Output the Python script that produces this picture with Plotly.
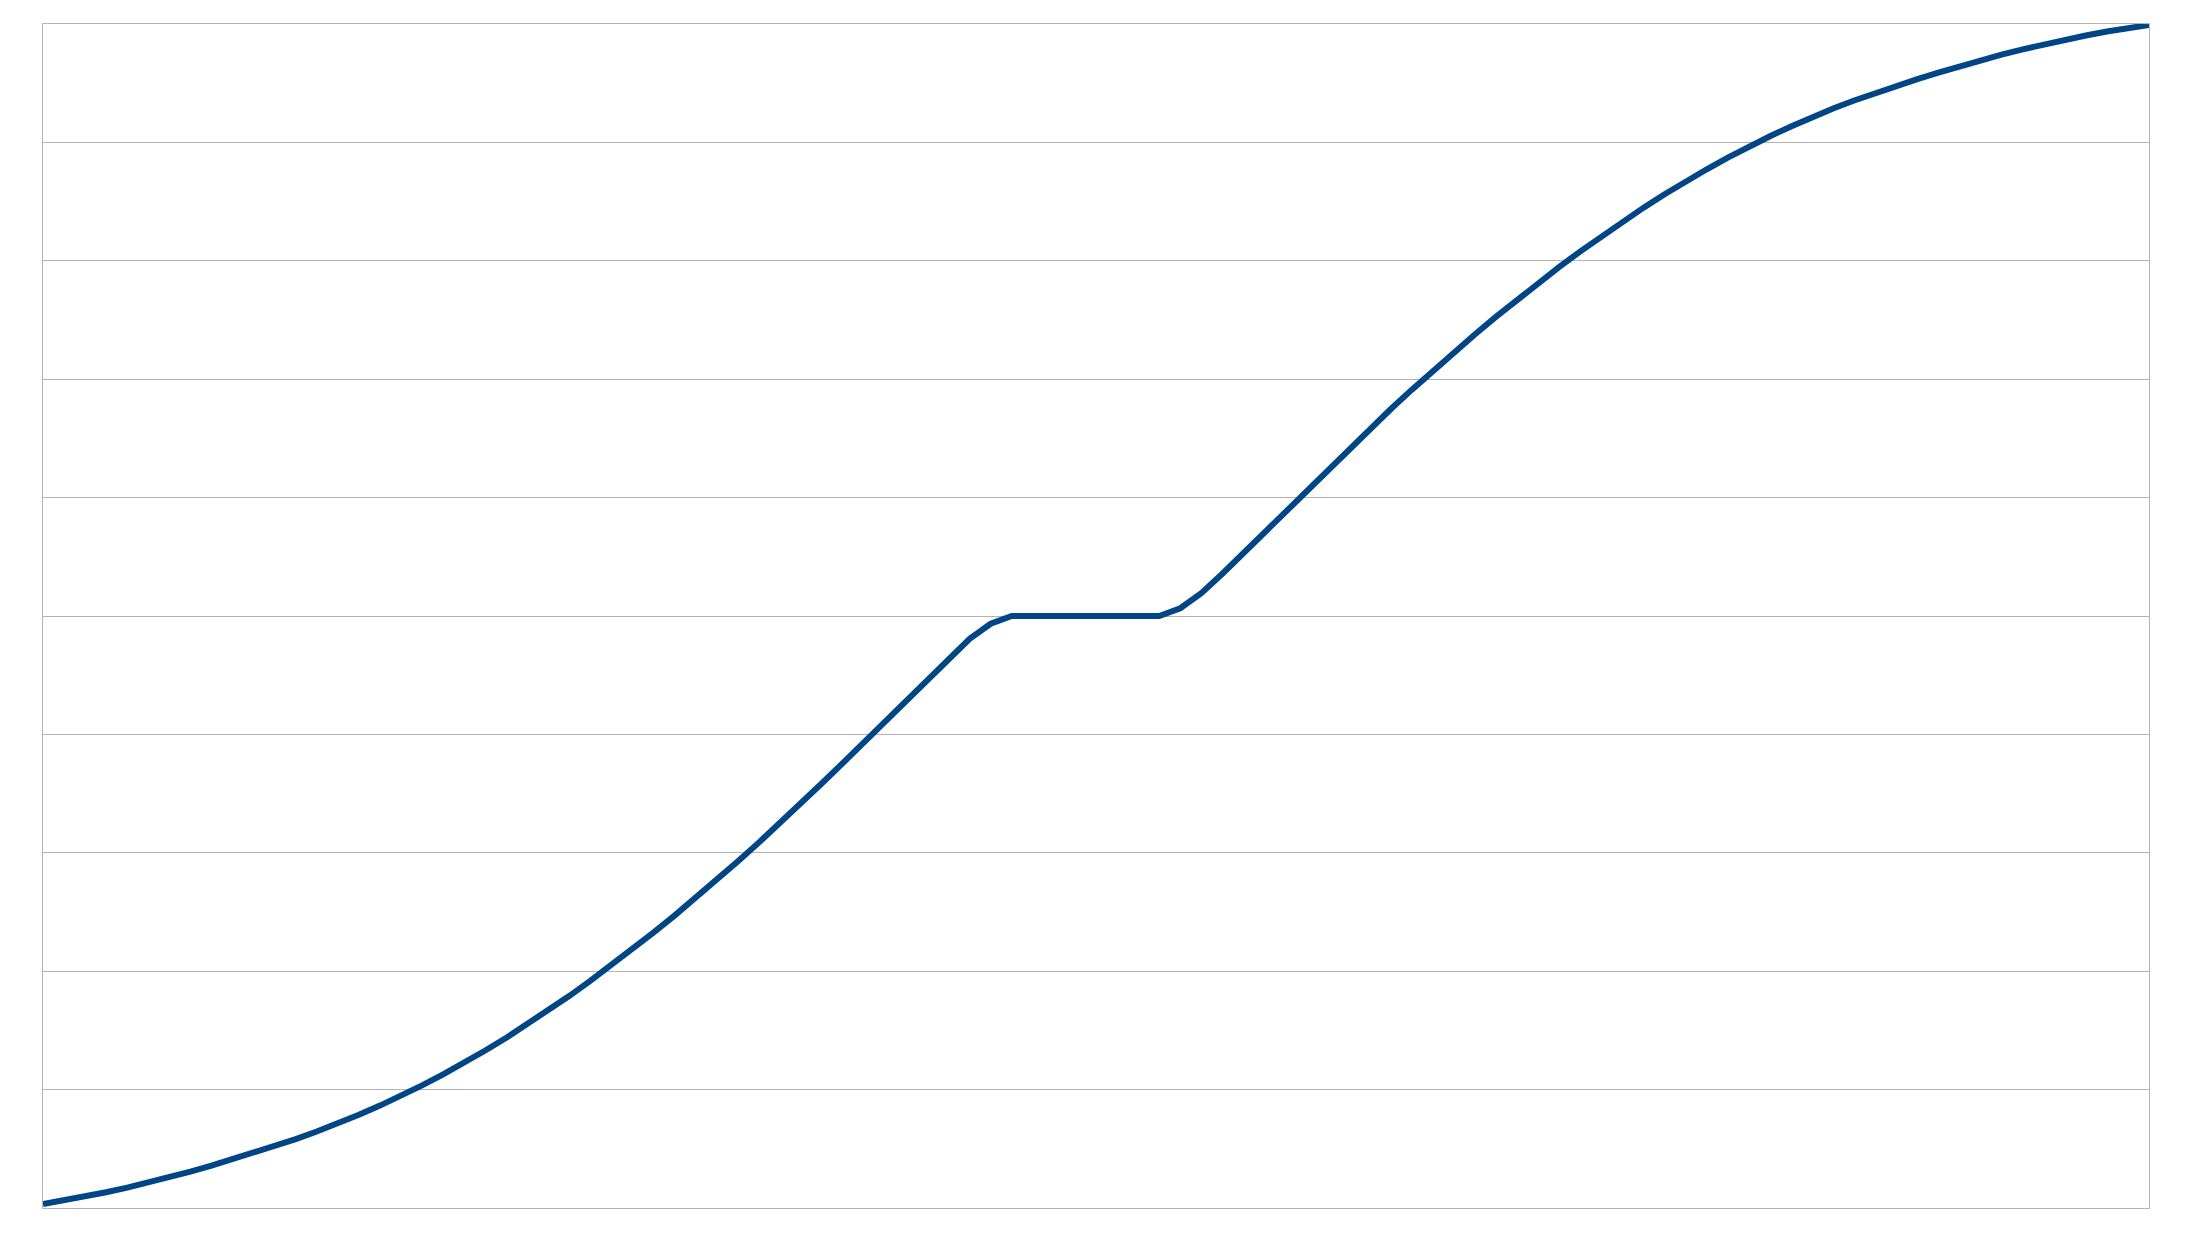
import plotly.graph_objects as go

# x positions (one point per step, 0..100)
steps = list(range(0, 101))

# values
level = [
    0.034, 0.064, 0.097, 0.133, 0.172, 0.214, 0.259, 0.307, 0.357, 0.410,
    0.465, 0.522, 0.582, 0.646, 0.714, 0.787, 0.865, 0.948, 1.036, 1.129,
    1.227, 1.330, 1.438, 1.551, 1.669, 1.792, 1.920, 2.052, 2.188, 2.328,
    2.472, 2.620, 2.772, 2.928, 3.088, 3.252, 3.419, 3.589, 3.762, 3.937,
    4.114, 4.292, 4.469, 4.643, 4.807, 4.935, 5.000, 5.000, 5.000, 5.000,
    5.000, 5.000, 5.000, 5.000, 5.065, 5.193, 5.357, 5.531, 5.708, 5.886,
    6.063, 6.238, 6.411, 6.581, 6.748, 6.912, 7.072, 7.228, 7.380, 7.528,
    7.672, 7.812, 7.948, 8.080, 8.208, 8.331, 8.449, 8.562, 8.670, 8.773,
    8.871, 8.964, 9.052, 9.135, 9.213, 9.286, 9.354, 9.418, 9.478, 9.535,
    9.590, 9.643, 9.693, 9.741, 9.786, 9.828, 9.867, 9.903, 9.936, 9.966,
    9.992,
]

fig = go.Figure()
fig.add_trace(go.Scatter(
    x=steps,
    y=level,
    mode="lines",
    line=dict(color="#004586", width=6),
    showlegend=False,
))

grid = "#b3b3b3"
fig.update_xaxes(
    range=[0, 100],
    showgrid=False,
    zeroline=False,
    showticklabels=False,
    ticks="",
    showline=True,
    linecolor=grid,
    linewidth=1,
    mirror=True,
)
fig.update_yaxes(
    range=[0, 10],
    dtick=1,
    showgrid=True,
    gridcolor=grid,
    gridwidth=1,
    zeroline=False,
    showticklabels=False,
    ticks="",
    showline=True,
    linecolor=grid,
    linewidth=1,
    mirror=True,
)
# page body adds 8px around the figure
fig.update_layout(
    width=2177,
    height=1217,
    margin=dict(l=35, r=36, t=16, b=17),
    paper_bgcolor="white",
    plot_bgcolor="white",
)

fig.write_html("out.html")
